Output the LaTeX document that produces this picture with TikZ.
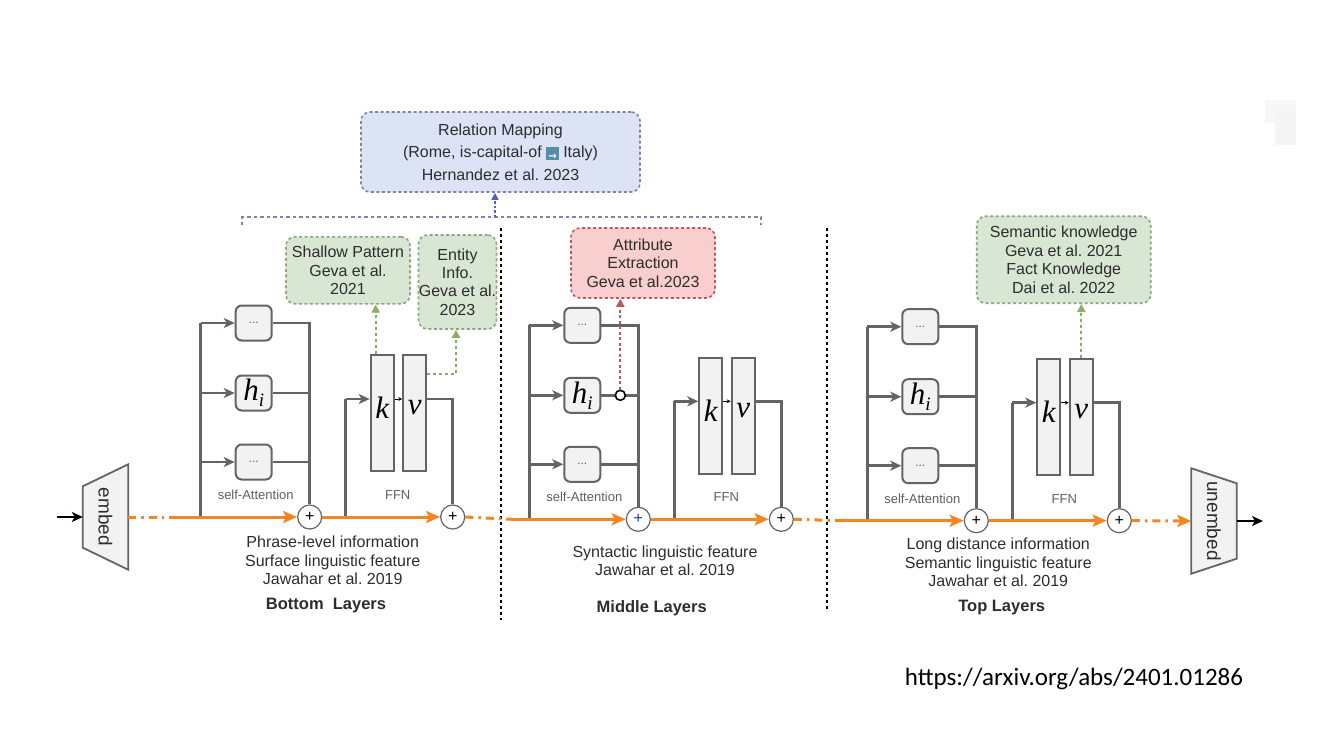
\documentclass[tikz,border=0pt]{standalone}
\usepackage{fontspec}
\setmainfont{Liberation Sans}
\newfontfamily\serifit{Liberation Serif}
\newfontfamily\dejavu{DejaVu Sans}
\newfontfamily\carlito{Carlito}
\usetikzlibrary{arrows.meta,calc}
\frenchspacing
\definecolor{gcol}{RGB}{100,100,100}
\definecolor{boxfill}{RGB}{242,242,242}
\definecolor{orng}{RGB}{245,132,34}
\definecolor{txt}{RGB}{45,45,45}
\definecolor{labc}{RGB}{95,95,95}
\definecolor{grfill}{RGB}{216,230,212}
\definecolor{grdraw}{RGB}{140,165,130}
\definecolor{grarr}{RGB}{135,175,100}
\definecolor{pkfill}{RGB}{248,206,206}
\definecolor{pkdraw}{RGB}{185,90,95}
\definecolor{blfill}{RGB}{219,227,245}
\definecolor{bldraw}{RGB}{125,135,165}
\definecolor{emblue}{RGB}{88,140,170}
\definecolor{plusblue}{RGB}{30,60,150}
\newcommand\emarrow{{\setlength{\fboxsep}{0.8pt}\raisebox{-1.5pt}{\colorbox{emblue}{\makebox[11pt][c]{\rule{0pt}{11pt}\textcolor{white}{\dejavu\bfseries\fontsize{10}{10}\selectfont →}}}}}}
\newcommand\hsym{{\serifit\itshape\fontsize{31}{31}\selectfont h\raisebox{-6pt}{\fontsize{19}{19}\selectfont i}}}
\newcommand\dotsym{{\color{labc}\fontsize{12}{12}\selectfont ...}}
\tikzset{
  gline/.style={draw=gcol, line width=2.8pt},
  garrow/.style={gline, -{Stealth[length=11pt,width=10pt,inset=3pt]}},
  thinarrow/.style={draw=black, line width=0.8pt, -{Stealth[length=4pt,width=4pt]}},
  dotbox/.style={draw=gcol, line width=2pt, fill=boxfill, rounded corners=6pt, minimum width=36pt, minimum height=35pt, inner sep=0pt},
  kvbox/.style={draw=gcol, line width=2pt, fill=boxfill, minimum width=23pt, minimum height=116pt, inner sep=0pt},
  plus/.style={circle, draw=gcol, line width=1.2pt, fill=white, minimum size=24pt, inner sep=0pt, font=\fontsize{16}{16}\selectfont},
  letter/.style={inner sep=0pt, font=\serifit\itshape\fontsize{31}{31}\selectfont},
  smalllab/.style={inner sep=0pt, text=labc, font=\fontsize{13}{13}\selectfont},
  para/.style={inner sep=0pt, align=center, text=txt, font=\fontsize{16}{18.5}\selectfont},
  heading/.style={inner sep=0pt, text=txt, font=\bfseries\fontsize{16.5}{18}\selectfont},
  ann/.style={rounded corners=9pt, line width=1.6pt, dash pattern=on 3pt off 2.5pt, inner sep=0pt, align=center, text=txt, font=\fontsize{16}{18.4}\selectfont},
  greenbox/.style={ann, draw=grdraw, fill=grfill},
  pinkbox/.style={ann, draw=pkdraw, fill=pkfill},
  bluebox/.style={ann, draw=bldraw, fill=blfill},
  grnarrow/.style={draw=grarr, line width=1.9pt, dash pattern=on 3pt off 3pt, -{Triangle[length=8pt,width=8pt]}},
  pinkarrow/.style={draw=pkdraw, line width=2pt, dash pattern=on 3pt off 2.5pt, -{Triangle[length=8pt,width=8pt]}},
  bluearrow/.style={draw=bldraw!70!blue, line width=1.6pt, dash pattern=on 2.5pt off 2pt, -{Triangle[length=7pt,width=7pt]}},
  bracket/.style={draw=bldraw, line width=1.6pt, dash pattern=on 3.5pt off 3pt},
  oline/.style={draw=orng, line width=3pt},
  oarrow/.style={oline, -{Stealth[length=14pt,width=12pt,inset=3pt]}},
  odash/.style={oline, dash pattern=on 8pt off 5pt on 2.5pt off 5pt},
  sepline/.style={draw=black, line width=2.2pt, dash pattern=on 2.5pt off 3.5pt},
  blackarrow/.style={draw=black, line width=2.2pt, -{Stealth[length=11pt,width=10pt,inset=3pt]}},
}
% one transformer layer: #1 prefix, #2 x of self-attention trunk, #3 y of residual line
\newcommand\drawlayer[3]{%
\begin{scope}[shift={(#2,#3)}]
  \coordinate (#1sa) at (0,0);
  \node[dotbox] (#1d1) at (53,-194) {\dotsym};
  \node[dotbox] (#1h) at (53,-124) {\hsym};
  \node[dotbox] (#1d2) at (53,-55) {\dotsym};
  \node[plus] (#1p1) at (109,0) {};
  \node[plus] (#1p2) at (252,0) {+};
  \node[kvbox] (#1k) at (181.5,-103.75) {};
  \node[kvbox] (#1v) at (214,-103.75) {};
  \coordinate (#1ffn) at (145,0);
  \coordinate (#1kin) at (145,-118);
  \node[smalllab] (#1salab) at (55,-22) {self-Attention};
  \node[smalllab] (#1ffnlab) at (197,-22) {FFN};
  \draw[gline] (#1sa) -- (#1sa |- #1d1);
  \draw[garrow] (#1sa |- #1d1) -- (#1d1.west);
  \draw[garrow] (#1sa |- #1h) -- (#1h.west);
  \draw[garrow] (#1sa |- #1d2) -- (#1d2.west);
  \draw[gline] (#1d1.east) -| (#1p1.north);
  \draw[gline] (#1h.east) -- (#1h.east -| #1p1);
  \draw[gline] (#1d2.east) -- (#1d2.east -| #1p1);
  \draw[gline] (#1ffn) -- (#1kin);
  \draw[garrow] (#1kin) -- (#1kin -| #1k.west);
  \draw[gline] (#1kin -| #1v.east) -| (#1p2.north);
  \node[letter] (#1klab) at (181.5,-109) {k};
  \node[letter] (#1vlab) at (214,-109) {v};
  \draw[thinarrow] (#1kin -| #1k.east) -- (#1kin -| #1v.west);
\end{scope}}
\begin{document}
\begin{tikzpicture}[x=1pt,y=-1pt]
\useasboundingbox (0,0) rectangle (1334,750);
\fill[white] (0,0) rectangle (1334,750);
% faint artefact top right
\fill[black!3] (1265,100) rectangle (1296,122);
\fill[black!4] (1275,112) rectangle (1296,145);

% embed / unembed
\node[minimum width=45pt, minimum height=105pt, inner sep=0pt] (embed) at (105.5,517) {};
\draw[draw=gcol, fill=boxfill, line width=1.8pt] ([yshift=-22pt]embed.north west) -- (embed.north east) -- (embed.south east) -- ([yshift=22pt]embed.south west) -- cycle;
\node[rotate=-90, text=txt, font=\fontsize{19}{19}\selectfont, inner sep=0pt] at (embed) {\rmfamily embed};
\node[minimum width=45pt, minimum height=105pt, inner sep=0pt] (unembed) at (1214,521) {};
\draw[draw=gcol, fill=boxfill, line width=1.8pt] (unembed.north west) -- ([yshift=-15pt]unembed.north east) -- ([yshift=15pt]unembed.south east) -- (unembed.south west) -- cycle;
\node[rotate=-90, text=txt, font=\fontsize{19}{19}\selectfont, inner sep=0pt] at (unembed) {\rmfamily unembed};
\coordinate (in) at (57,517);
\coordinate (out) at (1263,521);
\draw[blackarrow] (in) -- (embed.west);
\draw[blackarrow] (unembed.east) -- (out);

% separators
\draw[sepline] (500.7,228) -- (500.7,620);
\draw[sepline] (826.7,228) -- (826.7,612);

% layers
\drawlayer{B}{200.7}{517}
\drawlayer{M}{529.3}{519.3}
\drawlayer{T}{867.3}{520.7}
\node[font=\fontsize{16}{16}\selectfont] at (Bp1) {+};
\node[font=\fontsize{16}{16}\selectfont, text=plusblue] at (Mp1) {+};
\node[font=\fontsize{16}{16}\selectfont] at (Tp1) {+};

% residual stream
\coordinate (Bst) at (173,517);
\coordinate (Mst) at (512,519.3);
\coordinate (Tst) at (843,520.7);
\draw[odash] (embed.east) -- (Bst);
\draw[oarrow] (Bst) -- (Bp1.west);
\draw[oarrow] (Bp1.east) -- (Bp2.west);
\draw[odash] (Bp2.east) -- (Mst);
\draw[oarrow] (Mst) -- (Mp1.west);
\draw[oarrow] (Mp1.east) -- (Mp2.west);
\draw[odash] (Mp2.east) -- (Tst);
\draw[oarrow] (Tst) -- (Tp1.west);
\draw[oarrow] (Tp1.east) -- (Tp2.west);
\draw[odash, -{Stealth[length=14pt,width=12pt,inset=3pt]}] (Tp2.east) -- (unembed.west);

% layer descriptions
\node[para] (btxt) at (332.7,560.7) {Phrase-level information\\Surface linguistic feature\\Jawahar et al. 2019};
\node[para] (mtxt) at (665,561) {Syntactic linguistic feature\\Jawahar et al. 2019};
\node[para] (ttxt) at (998.3,562.5) {Long distance information\\Semantic linguistic feature\\Jawahar et al. 2019};
\node[heading] (bhead) at (326,606) {Bottom\ \ Layers};
\node[heading] (mhead) at (651.7,608) {Middle Layers};
\node[heading] (thead) at (1001.7,608) {Top Layers};

% annotation boxes
\node[bluebox, minimum width=279pt, minimum height=80pt, font=\fontsize{16}{22.5}\selectfont] (rel) at (500.5,152) {Relation Mapping\\(Rome, is-capital-of \emarrow{} Italy)\\Hernandez et al. 2023};
\node[greenbox, minimum width=124pt, minimum height=67pt] (shallow) at (348,270.3) {Shallow Pattern\\Geva et al.\\2021};
\node[greenbox, minimum width=78pt, minimum height=94pt] (entity) at (457.5,282) {Entity\\Info.\\Geva et al.\\2023};
\node[pinkbox, minimum width=144pt, minimum height=70pt] (attr) at (643,263) {Attribute\\Extraction\\Geva et al.2023};
\node[greenbox, minimum width=174pt, minimum height=87pt] (sem) at (1063.7,259.7) {Semantic knowledge\\Geva et al. 2021\\Fact Knowledge\\Dai et al. 2022};

% bracket and relation arrow
\coordinate (brL) at (242,225);
\coordinate (brR) at (761,225);
\coordinate (brM) at (495,217);
\draw[bracket] (brL) -- (242,217) -- (761,217) -- (brR);
\draw[bluearrow] (brM) -- (brM |- rel.south);

% annotation arrows
\draw[grnarrow] ([xshift=-6.5pt]Bk.north) -- ([xshift=-6.5pt]Bk.north |- shallow.south);
\draw[grnarrow] ([yshift=-20pt]Bv.north east) -| ([xshift=-1.5pt]entity.south);
\node[circle, draw=black, line width=1.6pt, fill=white, minimum size=10pt, inner sep=0pt] (Mcirc) at ([xshift=19pt]Mh.east) {};
\draw[pinkarrow] (Mcirc.north) -- (Mcirc.north |- attr.south);
\draw[grnarrow] (Tv.north) -- (Tv.north |- sem.south);

% url
\node[inner sep=0pt, font=\carlito\fontsize{25}{25}\selectfont, text=black] (url) at (1074,679) {https://arxiv.org/abs/2401.01286};
\end{tikzpicture}
\end{document}
